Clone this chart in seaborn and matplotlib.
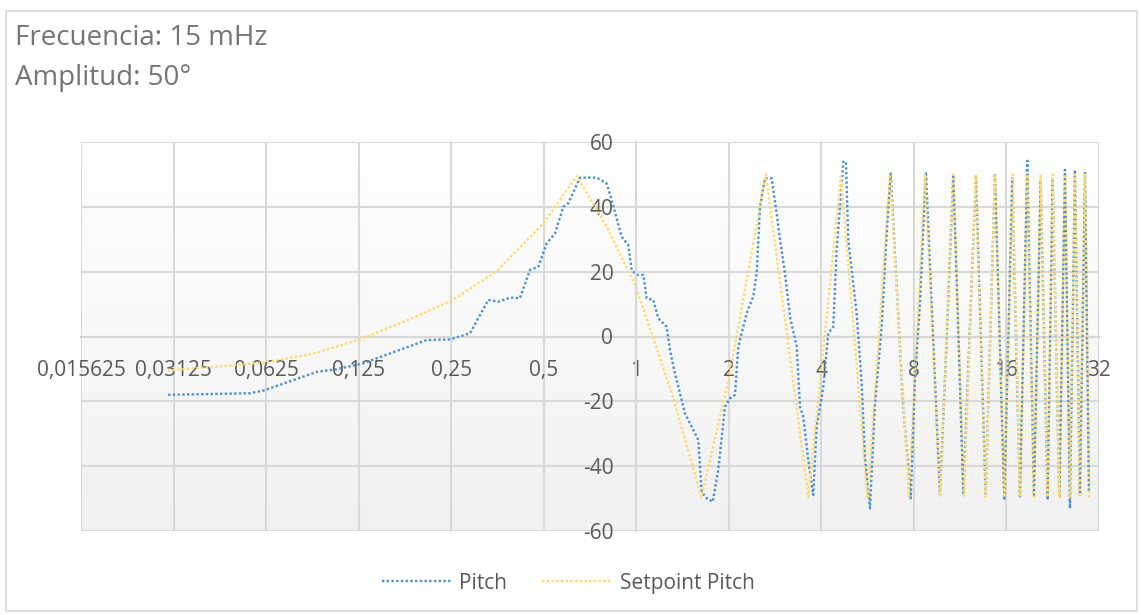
import numpy as np
import matplotlib
matplotlib.use("Agg")
import matplotlib.pyplot as plt
from matplotlib.colors import LinearSegmentedColormap
from matplotlib.patches import Rectangle
import seaborn as sns

# --- data -------------------------------------------------------------
pitch_x = [0.030, 0.0554, 0.0612, 0.0914, 0.106, 0.129, 0.208, 0.248, 0.288, 0.330,
           0.356, 0.389, 0.418, 0.451, 0.480, 0.511, 0.544, 0.579, 0.601, 0.656,
           0.743, 0.801, 0.832, 0.896, 0.942, 0.966, 1.003, 1.054, 1.081, 1.136,
           1.179, 1.256, 1.287, 1.336, 1.387, 1.440, 1.514, 1.591, 1.632, 1.694,
           1.772, 1.848, 1.943, 2.017, 2.094, 2.147, 2.286, 2.402, 2.464, 2.526,
           2.622, 2.757, 2.862, 2.934, 3.046, 3.162, 3.325, 3.408, 3.493, 3.626,
           3.764, 3.861, 4.058, 4.212, 4.373, 4.485, 4.598, 4.714, 4.810, 4.893,
           5.209, 5.409, 5.545, 5.756, 5.975, 6.126, 6.284, 6.524, 6.722, 7.031,
           7.386, 7.809, 8.062, 8.370, 8.754, 9.247, 9.722, 10.22, 10.74, 11.02,
           11.58, 12.73, 13.69, 14.68, 15.74, 16.71, 17.70, 18.70, 19.66, 20.67,
           21.78, 22.61, 23.77, 24.80, 25.74, 26.72, 27.74, 28.81, 29.68]
pitch_y = [-18.0, -17.5, -16.7, -10.9, -10.1, -8.3, -1.1, -0.9, 1.0, 11.3,
           10.7, 12.0, 11.8, 20.5, 21.5, 28.7, 31.8, 40.0, 41.1, 49.0,
           49.0, 47.2, 42.1, 30.8, 28.2, 20.5, 19.0, 19.0, 11.8, 11.3,
           5.6, 3.0, -4.2, -11.4, -17.5, -23.7, -27.8, -31.9, -47.9, -49.9,
           -51.0, -41.2, -21.7, -19.1, -18.0, -3.1, 7.2, 12.3, 19.5, 40.0,
           48.8, 48.8, 38.0, 30.0, 19.5, 6.1, -3.1, -21.7, -24.7, -38.1,
           -48.9, -27.8, -15.5, 1.0, 3.0, 26.7, 40.0, 53.9, 53.9, 29.8,
           7.2, -14.4, -37.1, -53.0, -21.0, -9.3, 3.0, 31.8, 50.3, 15.4,
           -21.7, -49.9, -13.4, 10.2, 50.8, -1.1, -48.9, -1.1, 49.8, 17.4,
           -48.4, 49.8, -48.9, 50.3, -50.4, 48.8, -49.9, 54.2, -48.9, 48.3,
           -50.4, 49.0, -49.9, 51.4, -53.0, 51.4, -48.9, 50.8, -48.0]

setpoint_x = [0.030, 0.0625, 0.09, 0.125, 0.18, 0.25, 0.35, 0.5, 0.64, 0.8,
              1.0, 1.3, 1.63, 2.0, 2.64, 3.63, 4.63, 5.66, 6.69, 7.71,
              8.69, 9.73, 10.74, 11.64, 12.70, 13.69, 14.68, 15.74, 16.76, 17.70,
              18.70, 19.66, 20.67, 21.78, 22.61, 23.77, 24.80, 25.74, 26.72, 27.74,
              28.80, 29.75]
setpoint_y = [-10.5, -8.0, -5.2, -1.0, 5.0, 11.0, 20.0, 35.0, 49.5, 34.0,
              15.0, -17.0, -49.5, -13.0, 50.0, -49.5, 49.5, -50.0, 50.0, -49.5,
              50.0, -49.5, 50.0, -49.5, 50.0, -49.5, 50.0, -49.5, 50.0, -49.5,
              50.0, -49.5, 50.0, -49.5, 50.0, -49.5, 50.0, -49.5, 50.0, -49.5,
              50.0, -50.0]

x_ticks = [0.015625, 0.03125, 0.0625, 0.125, 0.25, 0.5, 1, 2, 4, 8, 16, 32]
x_tick_labels = ["0,015625", "0,03125", "0,0625", "0,125", "0,25", "0,5",
                 "1", "2", "4", "8", "16", "32"]
y_ticks = [-60, -40, -20, 0, 20, 40, 60]

title_lines = ["Frecuencia: 15 mHz", "Amplitud: 50°"]
series_names = ["Pitch", "Setpoint Pitch"]

# --- style ------------------------------------------------------------
sns.set_style("white")
plt.rcParams["font.family"] = ["Open Sans", "DejaVu Sans"]

BLUE = "#4a8fd6"
YELLOW = "#ffd966"
GRID = "#d9d9d9"
TEXT = "#595959"

W, H = 1141, 615
fig = plt.figure(figsize=(W / 100, H / 100), dpi=100)

# plot-area position in pixels
left, right, top, bottom = 81, 1099, 142, 531
pos = [left / W, 1 - bottom / H, (right - left) / W, (bottom - top) / H]

# soft vertical gradient behind the plot area
bg = fig.add_axes(pos, zorder=0)
cmap = LinearSegmentedColormap.from_list("fade", ["#ffffff", "#f1f1f1"])
bg.imshow(np.linspace(0, 1, 256).reshape(-1, 1), cmap=cmap, aspect="auto",
          extent=(0, 1, 0, 1), origin="upper")
bg.set_axis_off()

ax = fig.add_axes(pos, zorder=1)
ax.set_facecolor("none")

sns.lineplot(x=pitch_x, y=pitch_y, ax=ax, sort=False, estimator=None,
             color=BLUE, linewidth=1.7, linestyle=(0, (1, 1)),
             label=series_names[0])
sns.lineplot(x=setpoint_x, y=setpoint_y, ax=ax, sort=False, estimator=None,
             color=YELLOW, linewidth=1.7, linestyle=(0, (1, 1)),
             label=series_names[1])

ax.set_xscale("log", base=2)
ax.set_xlim(0.015625, 32)
ax.set_ylim(-60, 60)
ax.set_xticks(x_ticks, x_tick_labels)
ax.set_yticks(y_ticks, [str(v) for v in y_ticks])
ax.xaxis.set_minor_locator(matplotlib.ticker.NullLocator())
ax.set_xlabel("")
ax.set_ylabel("")

ax.grid(True, color=GRID, linewidth=1.5)
ax.set_axisbelow(True)

# axes cross in the middle: horizontal axis at y=0, vertical axis at x=1
ax.spines["bottom"].set_position(("data", 0))
ax.spines["bottom"].set_color("#bfbfbf")
ax.spines["bottom"].set_linewidth(1.5)
ax.spines["bottom"].set_zorder(0.5)
ax.spines["left"].set_position(("data", 1))
ax.spines["left"].set_color(GRID)
ax.spines["left"].set_linewidth(1.5)
ax.spines["top"].set_visible(False)
ax.spines["right"].set_visible(False)

ax.tick_params(axis="x", length=0, pad=17, labelsize=15, labelcolor=TEXT)
ax.tick_params(axis="y", length=0, pad=16.5, labelsize=15, labelcolor=TEXT)

leg = ax.legend(loc="center", bbox_to_anchor=(0.498, 0.052),
                bbox_transform=fig.transFigure, ncol=2, frameon=False,
                fontsize=15, handlelength=3.3, handletextpad=0.4,
                columnspacing=1.7)
for t in leg.get_texts():
    t.set_color(TEXT)

# two-line heading, top left
fig.text(15 / W, 1 - 45 / H, title_lines[0], fontsize=20, color="#757575",
         va="baseline", ha="left")
fig.text(15 / W, 1 - 85 / H, title_lines[1], fontsize=20, color="#757575",
         va="baseline", ha="left")

# thin frame around the whole chart
fig.patches.append(Rectangle((5.5 / W, 4.5 / H), 1131 / W, 600 / H,
                             transform=fig.transFigure, fill=False,
                             edgecolor="#d9d9d9", linewidth=1.2))

fig.savefig("out.png", dpi=100)
